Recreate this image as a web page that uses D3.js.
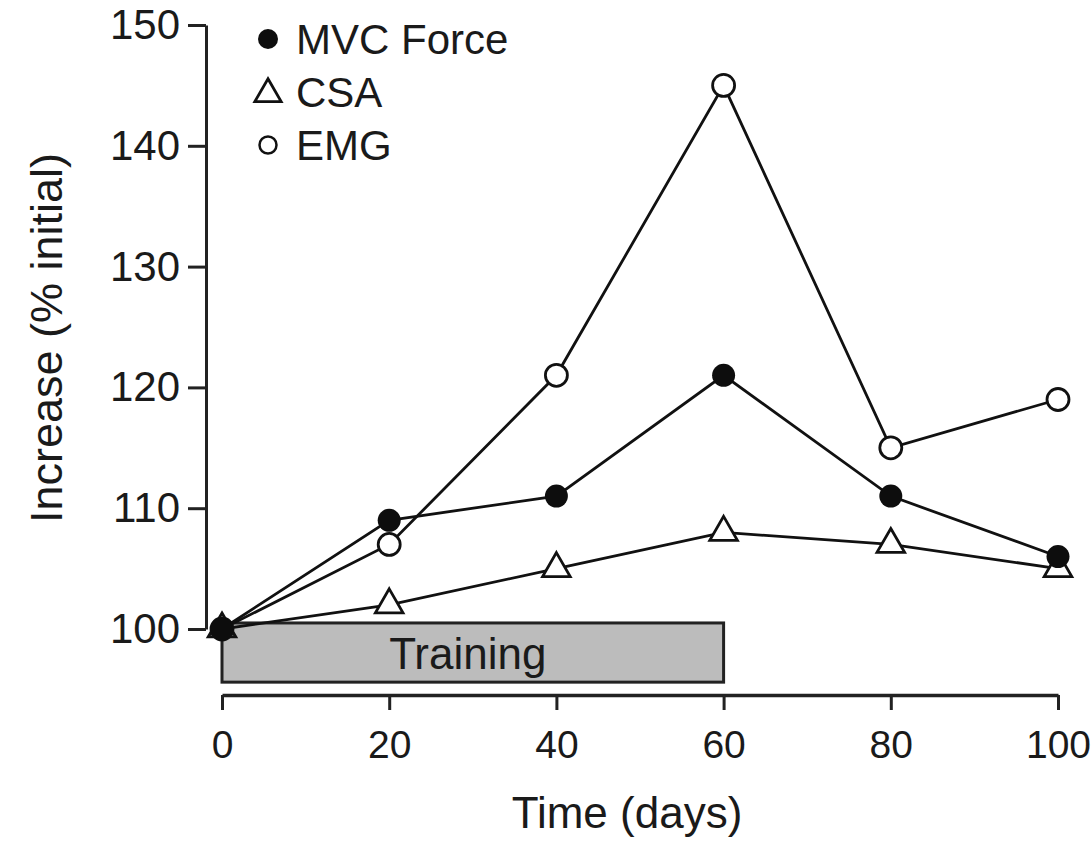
<!DOCTYPE html>
<html>
<head>
    <script src="https://d3js.org/d3.v7.min.js"></script>
    <style>
        body { margin: 0; background: #fff; }
        text { font-family: "Liberation Sans", Arial, sans-serif; fill: #1a1a1a; }
    </style>
</head>
<body>
    <script>
        // Data
        var days = [0, 20, 40, 60, 80, 100];
        var mvcForce = [100, 109, 111, 121, 111, 106];
        var csa = [100, 102, 105, 108, 107, 105];
        var emg = [100, 107, 121, 145, 115, 119];
        var yTicks = [100, 110, 120, 130, 140, 150];
        var xTicks = [0, 20, 40, 60, 80, 100];
        var trainingDays = [0, 60];

        var width = 1092, height = 841;

        var svg = d3.select("body")
            .append("svg")
            .attr("width", width)
            .attr("height", height);

        // Scales
        var x = d3.scaleLinear().domain([0, 100]).range([222, 1058]);
        var y = d3.scaleLinear().domain([100, 150]).range([629, 25]);

        // Y axis
        var yAxis = svg.append("g")
            .attr("transform", "translate(206,0)")
            .call(d3.axisLeft(y).tickValues(yTicks).tickSize(18).tickSizeOuter(0).tickPadding(8));
        yAxis.select(".domain").attr("stroke", "#222").attr("stroke-width", 3);
        yAxis.selectAll(".tick line").attr("stroke", "#222").attr("stroke-width", 3);
        yAxis.selectAll(".tick text").style("font-size", "42px").attr("fill", "#1a1a1a");

        // X axis (offset below the plot)
        var xAxis = svg.append("g")
            .attr("transform", "translate(0,695)")
            .call(d3.axisBottom(x).tickValues(xTicks).tickSize(15).tickSizeOuter(0).tickPadding(20));
        xAxis.select(".domain").attr("stroke", "#222").attr("stroke-width", 3.5);
        xAxis.selectAll(".tick line").attr("stroke", "#222").attr("stroke-width", 3);
        xAxis.selectAll(".tick text").style("font-size", "39px").attr("fill", "#1a1a1a");

        // Axis titles
        svg.append("text")
            .attr("transform", "translate(62,338) rotate(-90)")
            .attr("text-anchor", "middle")
            .style("font-size", "45px")
            .text("Increase (% initial)");

        svg.append("text")
            .attr("x", 627)
            .attr("y", 828)
            .attr("text-anchor", "middle")
            .style("font-size", "44px")
            .text("Time (days)");

        // Training bar
        svg.append("rect")
            .attr("x", x(trainingDays[0]))
            .attr("y", y(100.5))
            .attr("width", x(trainingDays[1]) - x(trainingDays[0]))
            .attr("height", y(95.6) - y(100.5))
            .attr("fill", "#bcbcbc")
            .attr("stroke", "#222")
            .attr("stroke-width", 3);

        svg.append("text")
            .attr("x", (x(trainingDays[0]) + x(trainingDays[1])) / 2 - 5)
            .attr("y", y(98))
            .attr("dy", "0.35em")
            .attr("text-anchor", "middle")
            .style("font-size", "44px")
            .text("Training");

        // Lines
        var line = d3.line()
            .x(function (d, i) { return x(days[i]); })
            .y(function (d) { return y(d); });

        [emg, csa, mvcForce].forEach(function (s) {
            svg.append("path")
                .datum(s)
                .attr("d", line)
                .attr("fill", "none")
                .attr("stroke", "#111")
                .attr("stroke-width", 2.8);
        });

        var triangle = d3.symbol().type(d3.symbolTriangle).size(330);

        // CSA markers
        svg.selectAll(".csa")
            .data(csa)
            .enter()
            .append("path")
            .attr("class", "csa")
            .attr("transform", function (d, i) { return "translate(" + x(days[i]) + "," + y(d) + ")"; })
            .attr("d", triangle)
            .attr("fill", "#fff")
            .attr("stroke", "#111")
            .attr("stroke-width", 2.8);

        // EMG markers
        svg.selectAll(".emg")
            .data(emg)
            .enter()
            .append("circle")
            .attr("class", "emg")
            .attr("cx", function (d, i) { return x(days[i]); })
            .attr("cy", function (d) { return y(d); })
            .attr("r", 11)
            .attr("fill", "#fff")
            .attr("stroke", "#111")
            .attr("stroke-width", 2.8);

        // MVC force markers
        svg.selectAll(".mvc")
            .data(mvcForce)
            .enter()
            .append("circle")
            .attr("class", "mvc")
            .attr("cx", function (d, i) { return x(days[i]); })
            .attr("cy", function (d) { return y(d); })
            .attr("r", 11.5)
            .attr("fill", "#0d0d0d");

        // Legend
        var legendItems = ["MVC Force", "CSA", "EMG"];
        var legend = svg.selectAll(".legend")
            .data(legendItems)
            .enter()
            .append("g")
            .attr("class", "legend")
            .attr("transform", function (d, i) { return "translate(268," + (39 + i * 53) + ")"; });

        legend.each(function (d, i) {
            var g = d3.select(this);
            if (i === 0) {
                g.append("circle").attr("r", 10).attr("fill", "#0d0d0d");
            } else if (i === 1) {
                g.append("path").attr("d", d3.symbol().type(d3.symbolTriangle).size(300))
                    .attr("transform", "translate(0,2)")
                    .attr("fill", "#fff").attr("stroke", "#111").attr("stroke-width", 2.8);
            } else {
                g.append("circle").attr("r", 8.5).attr("fill", "#fff")
                    .attr("stroke", "#111").attr("stroke-width", 2.5);
            }
            g.append("text")
                .attr("x", 28)
                .attr("dy", "0.36em")
                .style("font-size", "42px")
                .text(d);
        });
    </script>
</body>
</html>
